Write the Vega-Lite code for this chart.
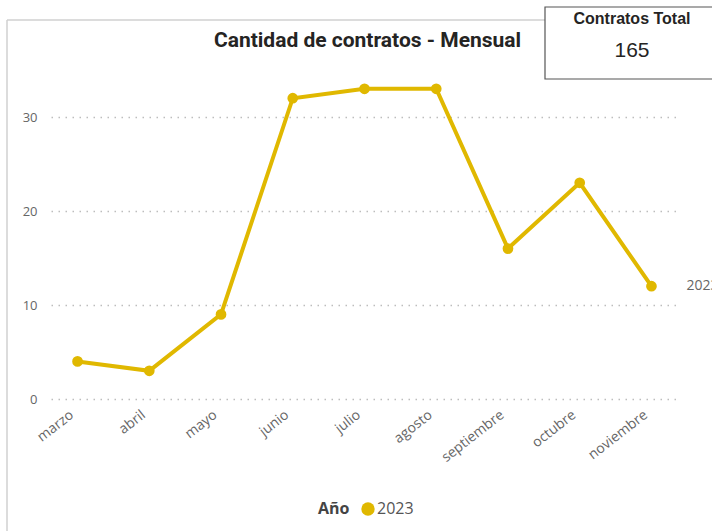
{
  "$schema": "https://vega.github.io/schema/vega-lite/v6.json",
  "autosize": {"type": "none"},
  "width": 627,
  "height": 329,
  "padding": {"left": 51, "top": 70, "right": 34, "bottom": 132},
  "background": "white",
  "title": {"text": "Cantidad de contratos - Mensual", "anchor": "middle", "font": "Roboto", "fontSize": 21, "fontWeight": "bold", "color": "#252423", "offset": -45, "dx": 3},
  "config": {
    "view": {"stroke": null},
    "axis": {"labelFont": "Open Sans", "labelColor": "#666666", "labelFontSize": 13, "domain": false, "ticks": false, "title": null},
    "legend": {"labelFont": "Open Sans", "titleFont": "Open Sans"}
  },
  "data": {"values": [
    {"mes": "marzo", "valor": 4, "anio": "2023"},
    {"mes": "abril", "valor": 3, "anio": "2023"},
    {"mes": "mayo", "valor": 9, "anio": "2023"},
    {"mes": "junio", "valor": 32, "anio": "2023"},
    {"mes": "julio", "valor": 33, "anio": "2023"},
    {"mes": "agosto", "valor": 33, "anio": "2023"},
    {"mes": "septiembre", "valor": 16, "anio": "2023"},
    {"mes": "octubre", "valor": 23, "anio": "2023"},
    {"mes": "noviembre", "valor": 12, "anio": "2023"}
  ]},
  "encoding": {
    "x": {"field": "mes", "type": "ordinal", "sort": null, "scale": {"type": "point", "padding": 0.37},
      "axis": {"labelAngle": -38, "labelAlign": "right", "labelBaseline": "middle", "labelPadding": 14, "labelOffset": -6, "labelFontSize": 14, "grid": false}},
    "y": {"field": "valor", "type": "quantitative", "scale": {"domain": [0, 35], "nice": false},
      "axis": {"values": [0, 10, 20, 30], "grid": true, "gridColor": "#bdbdbd", "gridDash": [1.5, 5.5], "gridWidth": 1.5, "labelPadding": 14}}
  },
  "layer": [
    {
      "mark": {"type": "line", "strokeWidth": 4},
      "encoding": {
        "color": {"field": "anio", "type": "nominal", "scale": {"range": ["#E0B800"]},
          "legend": {"orient": "none", "legendX": 267, "legendY": 431, "direction": "horizontal", "title": "Año", "titleOrient": "left", "titleFontSize": 16, "titleFontWeight": "bold", "titleColor": "#444444", "labelFontSize": 16, "labelColor": "#555555", "symbolType": "circle", "symbolSize": 180, "symbolFillColor": "#E0B800", "symbolStrokeWidth": 0, "labelOffset": 1, "titlePadding": 10}}
      }
    },
    {
      "mark": {"type": "point", "filled": true, "size": 115, "opacity": 1},
      "encoding": {"color": {"field": "anio", "type": "nominal"}}
    },
    {
      "transform": [{"filter": "datum.mes === 'noviembre'"}],
      "mark": {"type": "text", "align": "left", "dx": 35, "font": "Open Sans", "fontSize": 14, "color": "#666666"},
      "encoding": {"text": {"field": "anio"}}
    },
    {
      "data": {"values": [{"s": "top"}]},
      "mark": {"type": "rule", "color": "#d0d0d0", "strokeWidth": 1.5},
      "encoding": {"x": {"value": -44}, "x2": {"value": 494}, "y": {"value": -50}, "y2": {"value": -50}}
    },
    {
      "data": {"values": [{"s": "left"}]},
      "mark": {"type": "rule", "color": "#d0d0d0", "strokeWidth": 1.5},
      "encoding": {"x": {"value": -44}, "x2": {"value": -44}, "y": {"value": -50}, "y2": {"value": 470}}
    },
    {
      "data": {"values": [{"s": "card"}]},
      "mark": {"type": "rect", "fill": "white", "stroke": "#555555", "strokeWidth": 1.2},
      "encoding": {"x": {"value": 494}, "x2": {"value": 720}, "y": {"value": -63}, "y2": {"value": 9}}
    },
    {
      "data": {"values": [{"s": "cardtitle", "t": "Contratos Total"}]},
      "mark": {"type": "text", "font": "Liberation Sans", "fontSize": 16, "fontWeight": "bold", "color": "#252423", "align": "center", "baseline": "middle"},
      "encoding": {"x": {"value": 581}, "y": {"value": -51}, "text": {"field": "t"}}
    },
    {
      "transform": [{"aggregate": [{"op": "sum", "field": "valor", "as": "total"}]}],
      "mark": {"type": "text", "font": "Liberation Sans", "fontSize": 21, "color": "#252423", "align": "center", "baseline": "middle"},
      "encoding": {"x": {"value": 581}, "y": {"value": -19}, "text": {"field": "total"}}
    }
  ]
}
